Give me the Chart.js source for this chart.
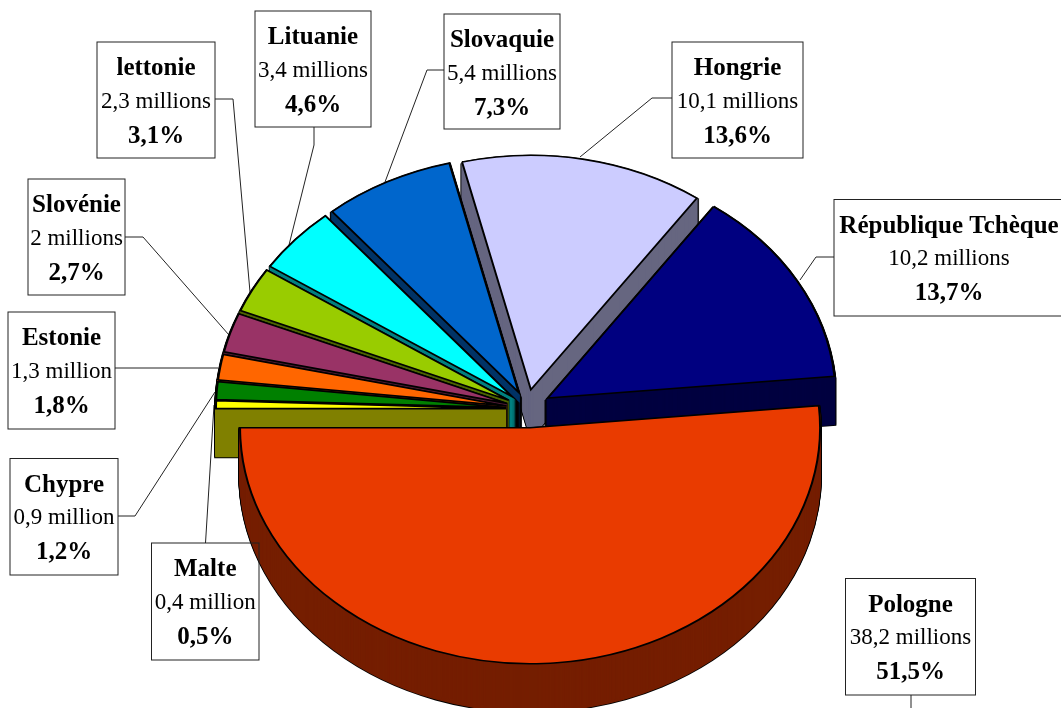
<!DOCTYPE html>
<html lang="fr">
<head>
<meta charset="utf-8">
<title>Population des nouveaux membres</title>
<script src="https://cdn.jsdelivr.net/npm/chart.js@4"></script>
<style>
html,body{margin:0;padding:0;background:#fff;overflow:hidden}
canvas{display:block}
</style>
</head>
<body>
<canvas id="c" width="1061" height="708"></canvas>
<script>
const categories = ['Malte','Chypre','Estonie','Slovénie','lettonie','Lituanie','Slovaquie','Hongrie','République Tchèque','Pologne'];
const populations = [0.4,0.9,1.3,2,2.3,3.4,5.4,10.1,10.2,38.2];
const populationLabels = ['0,4 million','0,9 million','1,3 million','2 millions','2,3 millions','3,4 millions','5,4 millions','10,1 millions','10,2 millions','38,2 millions'];
const shareLabels = ['0,5%','1,2%','1,8%','2,7%','3,1%','4,6%','7,3%','13,6%','13,7%','51,5%'];
const topColors = ['#FFFF00','#008000','#FF6600','#993366','#99CC00','#00FFFF','#0066CC','#CCCCFF','#000080','#E93B00'];
const wallColors = ['#808000','#004000','#803300','#4D1A33','#4D6600','#008080','#003366','#666680','#000040','#751E00'];

// Layout of the callouts: [left, top, width, height] and leader polylines
const boxes = [[151.5,543,107.5,117],[10,458.5,108,116.5],[8,312,107,117],[28,179,97,116],[97,42,118,116],[255,11,116,116],[444,14,116,115],[672,42,131,116],[834,199.5,230,116.5],[845.5,578.5,130,116.5]];
const leaders = [
  [[205.5,543],[214,405]],
  [[118,516],[135,516],[215,392]],
  [[115,368],[218,368]],
  [[125,237],[143,237],[229,335]],
  [[215,99],[233,99],[250,292]],
  [[314,127],[314,145],[289,245]],
  [[444,70],[427,70],[385,182]],
  [[672,98],[652,98],[580,157]],
  [[834,257],[816,257],[800,280]],
  [[911,695],[911,708]]
];

const PIE = {cx:529, cy:409, radius:290, squash:0.814, depth:48};
const explodeBy = [23,23,23,23,23,23,23,21,20.5,23];
const sizeBy = [1,1,1,1,1,1,1,0.993,0.993,1];
const nudgeX = [0,0,0,0,0,0,0,-2,1,0];
const nudgeY = [0,0,0,0,0,0,0,-2.5,-2.5,0];
const paintOrder = [7,8,6,5,4,3,2,1,0,9];

function arcStyle(fill, stroke, width){
  return {offset:0,spacing:0,circular:true,borderAlign:'center',borderRadius:0,borderJoinStyle:'miter',
          borderDash:[],borderDashOffset:0,backgroundColor:fill,borderColor:stroke,borderWidth:width};
}
function drawAt(ctx, arc, i, drop, style){
  const mid = (arc.startAngle + arc.endAngle) / 2;
  const e = explodeBy[i], s = sizeBy[i];
  const saved = arc.options;
  arc.options = style;
  ctx.save();
  ctx.translate(PIE.cx + nudgeX[i] + e*Math.cos(mid), PIE.cy + nudgeY[i] + drop + e*PIE.squash*Math.sin(mid));
  ctx.scale(s, PIE.squash*s);
  ctx.translate(-arc.x, -arc.y);
  arc.draw(ctx);
  ctx.restore();
  arc.options = saved;
}

const pie3d = {
  id:'pie3d',
  beforeDatasetsDraw(chart){
    const ctx = chart.ctx;
    // leader lines sit under the pie
    ctx.save();
    ctx.strokeStyle = '#222'; ctx.lineWidth = 1;
    leaders.forEach(pts=>{
      ctx.beginPath();
      pts.forEach((p,k)=> k ? ctx.lineTo(p[0],p[1]) : ctx.moveTo(p[0],p[1]));
      ctx.stroke();
    });
    ctx.restore();
    const arcs = chart.getDatasetMeta(0).data;
    paintOrder.forEach(i=>{
      const arc = arcs[i];
      const outline = arcStyle('rgba(0,0,0,0)','#000',3.6);
      const wall = arcStyle(wallColors[i],wallColors[i],1.6);
      for(let d=PIE.depth; d>=1; d--) drawAt(ctx,arc,i,d,outline);
      for(let d=PIE.depth; d>=1; d--) drawAt(ctx,arc,i,d,wall);
      drawAt(ctx,arc,i,0,arcStyle(topColors[i],'#000',2));
    });
    return false;
  },
  afterDraw(chart){
    const ctx = chart.ctx;
    ctx.save();
    categories.forEach((name,i)=>{
      const [x,y,w,h] = boxes[i];
      ctx.strokeStyle = '#222'; ctx.lineWidth = 1;
      ctx.strokeRect(x,y,w,h);
      const cx = x + w/2;
      ctx.textAlign = 'center'; ctx.textBaseline = 'alphabetic'; ctx.fillStyle = '#000';
      ctx.font = 'bold 25px "Liberation Serif"';
      ctx.fillText(name,cx,y+33);
      ctx.font = '23px "Liberation Serif"';
      ctx.fillText(populationLabels[i],cx,y+65.5);
      ctx.font = 'bold 25px "Liberation Serif"';
      ctx.fillText(shareLabels[i],cx,y+100.5);
    });
    ctx.restore();
  }
};

new Chart(document.getElementById('c'),{
  type:'pie',
  data:{labels:categories,datasets:[{data:populations,backgroundColor:topColors,borderColor:'#000',borderWidth:2,clip:false}]},
  options:{
    responsive:false,animation:false,rotation:270,radius:PIE.radius,
    layout:{padding:0},
    plugins:{legend:{display:false},tooltip:{enabled:false}}
  },
  plugins:[pie3d]
});
</script>
</body>
</html>
